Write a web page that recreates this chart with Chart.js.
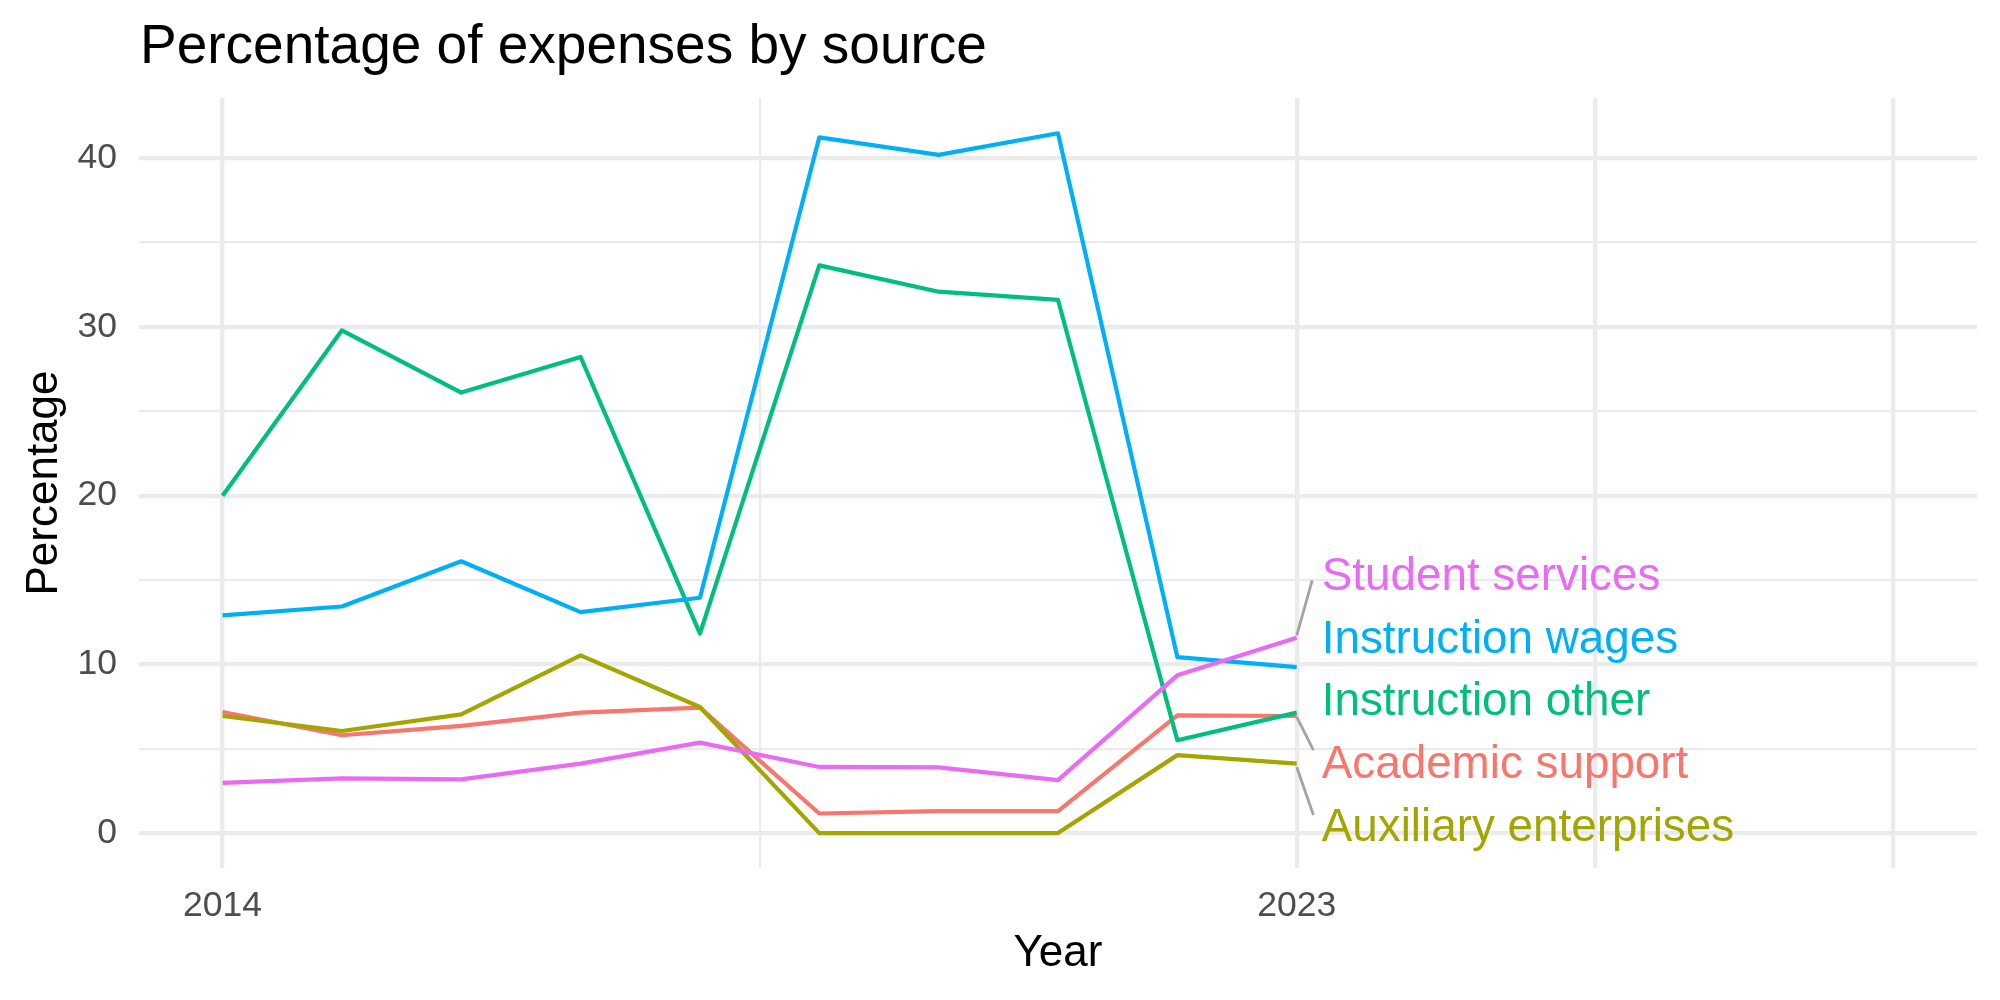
<!DOCTYPE html>
<html>
<head>
<meta charset="utf-8">
<script src="https://cdn.jsdelivr.net/npm/chart.js@4.4.1/dist/chart.umd.min.js"></script>
<style>
  html, body { margin: 0; padding: 0; background: #ffffff; }
  canvas { display: block; }
</style>
</head>
<body>
<canvas id="c" width="2000" height="1000"></canvas>
<script>
// ---- Data ----
const years = [2014, 2015, 2016, 2017, 2018, 2019, 2020, 2021, 2022, 2023];
const seriesNames = ["Academic support", "Auxiliary enterprises", "Instruction other", "Instruction wages", "Student services"];
const seriesColors = ["#F8766D", "#A3A500", "#00BF7D", "#00B0F6", "#E76BF3"];
const academicSupport      = [7.18, 5.80, 6.35, 7.14, 7.44, 1.16, 1.30, 1.30, 6.98, 6.94];
const auxiliaryEnterprises = [6.94, 6.05, 7.04, 10.53, 7.47, 0.00, 0.00, 0.00, 4.62, 4.12];
const instructionOther     = [20.0, 29.8, 26.11, 28.22, 11.82, 33.65, 32.09, 31.6, 5.5, 7.14];
const instructionWages     = [12.9, 13.43, 16.11, 13.1, 13.95, 41.24, 40.2, 41.48, 10.43, 9.84];
const studentServices      = [2.98, 3.24, 3.18, 4.12, 5.36, 3.92, 3.89, 3.14, 9.35, 11.58];
const seriesValues = [academicSupport, auxiliaryEnterprises, instructionOther, instructionWages, studentServices];

// end-of-line labels (repelled positions): x, y (vertical centre of text)
const labelX = [2023.21, 2023.21, 2023.21, 2023.21, 2023.21];
const labelY = [4.25, 0.51, 7.96, 11.64, 15.40];
// connector segments: [x0, y0, x1, y1]
const segmentAcademic   = [2023, 6.89, 2023.14, 4.91];
const segmentAuxiliary  = [2023, 3.92, 2023.14, 1.07];
const segmentStudent    = [2023, 11.72, 2023.13, 14.98];
const segments = [segmentAcademic, segmentAuxiliary, segmentStudent];

// axis breaks
const xGridBreaks = [2014, 2018.5, 2023, 2025.5, 2028];
const xMinorBreaks = [2018.5];
const xTickLabels = [2014, 2023];
const yGridBreaks = [0, 5, 10, 15, 20, 25, 30, 35, 40];
const yTickLabels = [0, 10, 20, 30, 40];

const FONT = "'Liberation Sans', Arial, Helvetica, sans-serif";

const datasets = seriesNames.map((name, i) => ({
  label: name,
  data: years.map((yr, j) => ({ x: yr, y: seriesValues[i][j] })),
  borderColor: seriesColors[i],
  backgroundColor: seriesColors[i],
  borderWidth: 4.2,
  pointRadius: 0,
  tension: 0,
  fill: false,
  borderJoinStyle: 'round',
  order: 10 - i
}));
segments.forEach((s) => {
  datasets.push({
    label: '_seg',
    data: [{ x: s[0], y: s[1] }, { x: s[2], y: s[3] }],
    borderColor: '#A3A3A3',
    borderWidth: 2.8,
    pointRadius: 0,
    tension: 0,
    fill: false,
    order: 0
  });
});

const textPlugin = {
  id: 'textPlugin',
  afterDraw(chart) {
    const ctx = chart.ctx;
    const ca = chart.chartArea;
    const xs = chart.scales.x, ys = chart.scales.y;
    ctx.save();
    // title
    ctx.fillStyle = '#000000';
    ctx.font = '55px ' + FONT;
    ctx.textAlign = 'left';
    ctx.textBaseline = 'alphabetic';
    ctx.fillText('Percentage of expenses by source', 140, 63);
    // x axis title
    ctx.font = '44px ' + FONT;
    ctx.textAlign = 'center';
    ctx.fillText('Year', (ca.left + ca.right) / 2, 966);
    // y axis title
    ctx.save();
    ctx.translate(57, (ca.top + ca.bottom) / 2);
    ctx.rotate(-Math.PI / 2);
    ctx.fillText('Percentage', 0, 0);
    ctx.restore();
    // line labels
    const lblSize = 45.8;
    ctx.font = lblSize + 'px ' + FONT;
    ctx.textAlign = 'left';
    seriesNames.forEach((name, i) => {
      const px = xs.getPixelForValue(labelX[i]);
      const py = ys.getPixelForValue(labelY[i]) + 0.358 * lblSize;
      ctx.fillStyle = seriesColors[i];
      ctx.fillText(name, px, py);
    });
    ctx.restore();
  }
};

new Chart(document.getElementById('c'), {
  type: 'line',
  data: { datasets },
  options: {
    responsive: false,
    animation: false,
    devicePixelRatio: 1,
    layout: { padding: { left: 0, top: 98, right: 23, bottom: 0 } },
    plugins: {
      legend: { display: false },
      title: { display: false },
      tooltip: { enabled: false }
    },
    scales: {
      x: {
        type: 'linear',
        min: 2013.3,
        max: 2028.7,
        border: { display: false },
        afterFit(scale) { scale.height = 132; },
        afterBuildTicks(scale) { scale.ticks = xGridBreaks.map(v => ({ value: v })); },
        grid: {
          color: '#EBEBEB',
          lineWidth: (c) => (c.tick && xMinorBreaks.includes(c.tick.value)) ? 2.2 : 4.3,
          drawTicks: false
        },
        ticks: {
          autoSkip: false,
          maxRotation: 0,
          padding: 17,
          color: '#4D4D4D',
          font: { family: FONT, size: 35.5 },
          callback: (v) => xTickLabels.includes(v) ? String(v) : ''
        }
      },
      y: {
        type: 'linear',
        min: -2.07,
        max: 43.57,
        border: { display: false },
        afterFit(scale) { scale.width = 139; },
        afterBuildTicks(scale) { scale.ticks = yGridBreaks.map(v => ({ value: v })); },
        grid: {
          color: '#EBEBEB',
          lineWidth: (c) => (c.tick && yTickLabels.includes(c.tick.value)) ? 4.3 : 2.2,
          drawTicks: false
        },
        ticks: {
          autoSkip: false,
          padding: 22,
          color: '#4D4D4D',
          font: { family: FONT, size: 35.5 },
          callback: (v) => yTickLabels.includes(v) ? String(v) : ''
        }
      }
    }
  },
  plugins: [textPlugin]
});
</script>
</body>
</html>
